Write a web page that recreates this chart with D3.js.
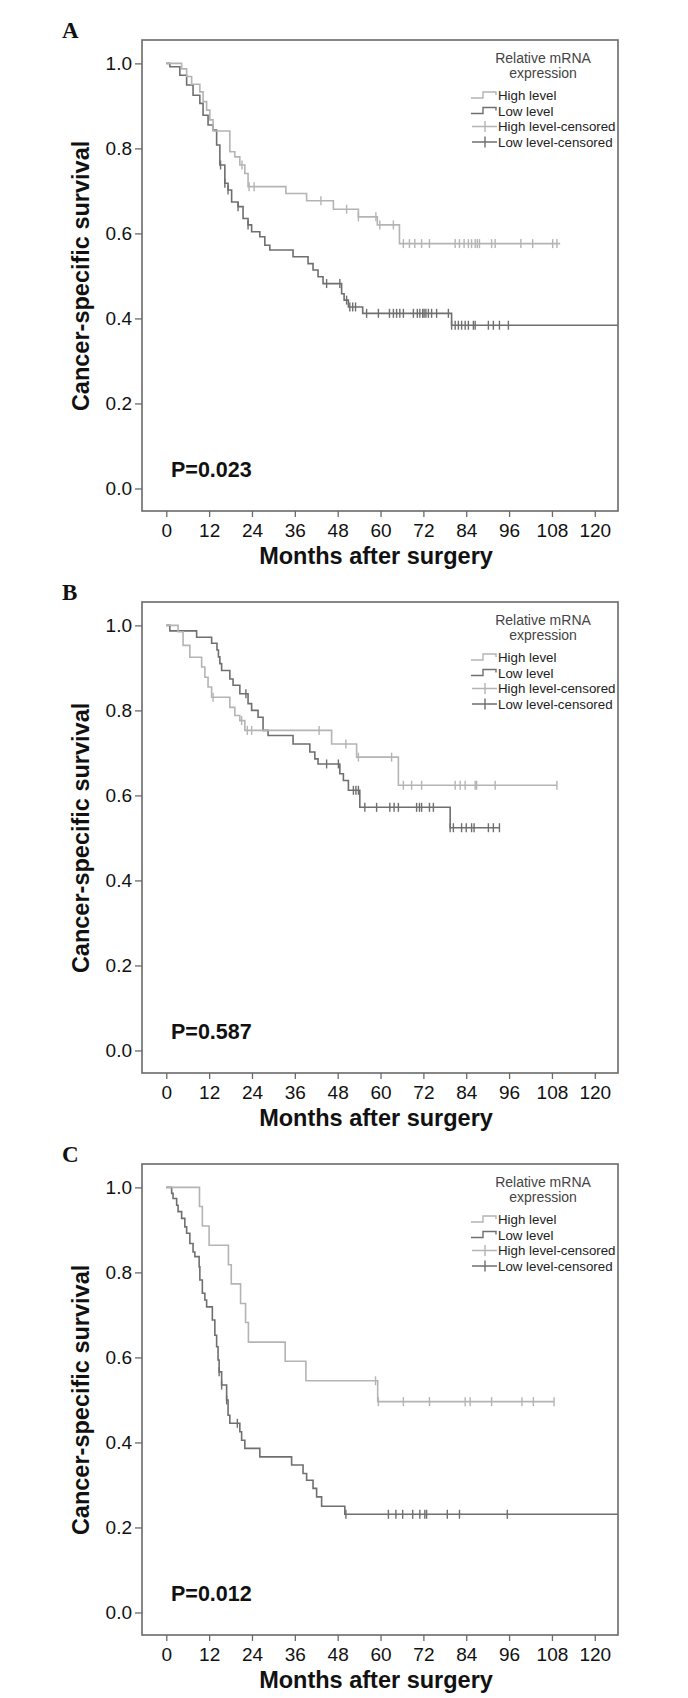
<!DOCTYPE html>
<html><head><meta charset="utf-8">
<script src="https://cdn.jsdelivr.net/npm/d3@7"></script>
<style>
body{margin:0;background:#fff}
svg{display:block}
text{font-family:"Liberation Sans",Arial,sans-serif}
</style>
</head><body>
<svg id="chart" width="688" height="1698"></svg>
<script>
// ---------- shared labels / ticks ----------
const monthTicks = [0, 12, 24, 36, 48, 60, 72, 84, 96, 108, 120];
const survivalTicks = [0.0, 0.2, 0.4, 0.6, 0.8, 1.0];
const panelLabels = ["A", "B", "C"];
const pValues = ["P=0.023", "P=0.587", "P=0.012"];
const legendTitle = ["Relative mRNA", "expression"];
const legendItems = ["High level", "Low level", "High level-censored", "Low level-censored"];
const xTitle = "Months after surgery";
const yTitle = "Cancer-specific survival";

// ---------- Panel A ----------
const highA_time = [4.3, 5.7, 7.1, 9.4, 10.3, 11.3, 12.2, 13.1, 17.8, 19.2, 20.6, 22.0, 22.9, 33.5, 39.3, 46.8, 53.8, 59.1, 65.3];
const highA_surv = [0.987, 0.969, 0.951, 0.933, 0.910, 0.890, 0.867, 0.841, 0.792, 0.780, 0.761, 0.741, 0.710, 0.694, 0.677, 0.657, 0.639, 0.620, 0.576];
const highA_censor = [21.2, 23.2, 24.6, 43.3, 50.5, 53.8, 58.7, 59.8, 63.6, 66.4, 68.1, 69.6, 71.5, 73.7, 80.9, 82.1, 83.4, 84.6, 85.5, 86.5, 87.1, 87.7, 91.1, 92.1, 99.3, 102.6, 108.2, 109.4];
const highA_end = 110.3;
const lowA_time = [1.0, 3.8, 5.7, 7.5, 9.4, 10.3, 11.7, 13.1, 14.1, 15.0, 16.4, 17.3, 18.3, 20.1, 21.5, 22.9, 23.9, 26.2, 27.6, 29.0, 35.5, 39.7, 41.1, 42.5, 43.9, 49.1, 49.8, 51.0, 55.0, 79.9];
const lowA_surv = [0.992, 0.972, 0.949, 0.925, 0.906, 0.878, 0.855, 0.843, 0.808, 0.761, 0.718, 0.702, 0.674, 0.663, 0.635, 0.620, 0.604, 0.592, 0.572, 0.561, 0.545, 0.529, 0.514, 0.498, 0.482, 0.458, 0.443, 0.427, 0.412, 0.384];
const lowA_censor = [15.2, 16.4, 17.3, 20.1, 22.9, 44.9, 48.6, 50.5, 51.4, 52.2, 53.0, 56.1, 59.4, 62.5, 63.6, 64.5, 65.4, 66.4, 69.2, 70.3, 71.0, 71.8, 72.2, 72.7, 73.4, 74.3, 75.7, 79.0, 79.9, 80.9, 81.8, 82.7, 83.7, 84.6, 86.0, 86.5, 90.2, 91.6, 93.3, 95.8];
const lowA_end = 130;

// ---------- Panel B ----------
const highB_time = [3.3, 4.7, 6.6, 9.9, 10.8, 11.7, 12.7, 17.8, 19.2, 20.6, 22.0, 46.3, 53.3, 65.0];
const highB_surv = [0.985, 0.953, 0.925, 0.902, 0.878, 0.855, 0.831, 0.807, 0.788, 0.776, 0.753, 0.721, 0.690, 0.624];
const highB_censor = [13.1, 21.1, 22.7, 23.9, 42.8, 50.3, 53.8, 63.1, 66.4, 68.7, 71.5, 80.9, 82.3, 83.7, 86.5, 86.9, 92.1, 109.4];
const highB_end = 109.4;
const lowB_time = [1.0, 8.5, 12.7, 14.2, 14.6, 15.0, 15.5, 17.8, 18.7, 20.6, 22.9, 23.9, 25.7, 27.1, 28.5, 35.5, 40.2, 41.6, 42.5, 48.6, 49.6, 51.0, 54.2, 79.5];
const lowB_surv = [0.987, 0.972, 0.958, 0.942, 0.926, 0.910, 0.894, 0.874, 0.859, 0.839, 0.816, 0.800, 0.784, 0.753, 0.741, 0.721, 0.702, 0.686, 0.674, 0.651, 0.635, 0.612, 0.572, 0.524];
const lowB_censor = [22.3, 44.9, 48.2, 52.4, 53.1, 53.8, 55.6, 58.9, 62.6, 63.8, 65.0, 70.1, 70.9, 71.5, 73.7, 74.8, 79.5, 80.4, 82.7, 84.0, 85.5, 86.2, 90.2, 91.6, 93.3];
const lowB_end = 93.3;

// ---------- Panel C ----------
const highC_time = [9.3, 10.1, 12.0, 17.4, 18.2, 20.8, 22.2, 23.0, 33.3, 39.1, 59.2];
const highC_surv = [0.955, 0.909, 0.864, 0.818, 0.773, 0.727, 0.682, 0.636, 0.591, 0.545, 0.496];
const highC_censor = [58.6, 59.4, 66.4, 73.7, 83.7, 85.1, 91.1, 99.6, 102.8, 108.6];
const highC_end = 108.6;
const lowC_time = [1.5, 1.9, 2.9, 3.3, 4.3, 5.2, 5.7, 6.6, 7.5, 8.0, 9.2, 9.4, 10.1, 10.8, 11.3, 12.9, 13.6, 14.1, 14.5, 14.8, 15.5, 16.9, 17.3, 17.8, 20.6, 21.1, 22.0, 26.2, 35.1, 38.3, 39.3, 41.1, 42.1, 43.5, 50.0];
const lowC_surv = [0.986, 0.974, 0.958, 0.943, 0.927, 0.907, 0.892, 0.868, 0.848, 0.837, 0.813, 0.782, 0.751, 0.735, 0.719, 0.688, 0.652, 0.625, 0.594, 0.566, 0.535, 0.500, 0.464, 0.445, 0.425, 0.405, 0.386, 0.366, 0.347, 0.327, 0.311, 0.292, 0.272, 0.250, 0.231];
const lowC_censor = [14.8, 15.5, 16.9, 19.9, 50.3, 62.2, 64.3, 66.2, 69.0, 71.0, 72.4, 72.9, 78.7, 82.1, 95.5];
const lowC_end = 130;

// ---------- build panel table ----------
const panels = [
  {label: panelLabels[0], p: pValues[0],
   high: {time: highA_time, surv: highA_surv, censor: highA_censor, end: highA_end},
   low:  {time: lowA_time,  surv: lowA_surv,  censor: lowA_censor,  end: lowA_end}},
  {label: panelLabels[1], p: pValues[1],
   high: {time: highB_time, surv: highB_surv, censor: highB_censor, end: highB_end},
   low:  {time: lowB_time,  surv: lowB_surv,  censor: lowB_censor,  end: lowB_end}},
  {label: panelLabels[2], p: pValues[2],
   high: {time: highC_time, surv: highC_surv, censor: highC_censor, end: highC_end},
   low:  {time: lowC_time,  surv: lowC_surv,  censor: lowC_censor,  end: lowC_end}}
];

// ---------- layout ----------
const panelH = 562;
const frame = {left: 142, right: 618, top: 40, bottom: 511};
const highColor = "#b4b4b4", lowColor = "#6f6f6f", frameColor = "#6a6a6a";

const x = d3.scaleLinear().domain([-6.8, 126.5]).range([frame.left, frame.right]);
const y = d3.scaleLinear().domain([-0.053, 1.055]).range([frame.bottom, frame.top]);
const line = d3.line().x(d => x(d[0])).y(d => y(d[1]));

function stepPoints(g) {
  const pts = [[0, 1]];
  let s = 1;
  g.time.forEach((t, i) => { pts.push([t, s]); s = g.surv[i]; pts.push([t, s]); });
  pts.push([g.end, s]);
  return pts;
}
function survAt(g, t) {
  let s = 1;
  g.time.forEach((tt, i) => { if (tt <= t) s = g.surv[i]; });
  return s;
}

const svg = d3.select("#chart");
const defs = svg.append("defs");
defs.append("clipPath").attr("id", "plotclip").append("rect")
  .attr("x", frame.left).attr("y", frame.top)
  .attr("width", frame.right - frame.left).attr("height", frame.bottom - frame.top);

panels.forEach((P, pi) => {
  const g = svg.append("g").attr("transform", `translate(0,${pi * panelH})`);

  // panel letter
  g.append("text").attr("x", 62).attr("y", 38)
    .style("font-family", '"Liberation Serif","Times New Roman",serif')
    .style("font-weight", "bold").style("font-size", "23px").attr("fill", "#111")
    .text(P.label);

  // axes
  const ax = g.append("g").attr("transform", `translate(0,${frame.bottom})`)
    .call(d3.axisBottom(x).tickValues(monthTicks).tickFormat(d3.format("d")).tickSizeOuter(0).tickSize(6).tickPadding(7));
  const ay = g.append("g").attr("transform", `translate(${frame.left},0)`)
    .call(d3.axisLeft(y).tickValues(survivalTicks).tickFormat(d3.format(".1f")).tickSizeOuter(0).tickSize(7).tickPadding(3));
  [ax, ay].forEach(a => {
    a.select(".domain").remove();
    a.selectAll(".tick line").attr("stroke", frameColor).attr("stroke-width", 1.3);
    a.selectAll(".tick text").attr("fill", "#111")
      .style("font-family", '"Liberation Sans",Arial,sans-serif').style("font-size", "19px");
  });

  // frame
  g.append("rect").attr("x", frame.left).attr("y", frame.top)
    .attr("width", frame.right - frame.left).attr("height", frame.bottom - frame.top)
    .attr("fill", "none").attr("stroke", frameColor).attr("stroke-width", 1.6);

  // axis titles
  g.append("text").attr("x", 376).attr("y", 564).attr("text-anchor", "middle")
    .style("font-weight", "bold").style("font-size", "23.5px").attr("fill", "#111").text(xTitle);
  g.append("text").attr("transform", `translate(89,${(y(0) + y(1)) / 2}) rotate(-90)`)
    .attr("text-anchor", "middle")
    .style("font-weight", "bold").style("font-size", "23.5px").attr("fill", "#111").text(yTitle);

  // curves
  const plot = g.append("g").attr("clip-path", "url(#plotclip)");
  [["low", lowColor], ["high", highColor]].forEach(([key, col]) => {
    const grp = P[key];
    plot.append("path").attr("d", line(stepPoints(grp)))
      .attr("fill", "none").attr("stroke", col).attr("stroke-width", 1.6);
    plot.selectAll(null).data(grp.censor).enter().append("line")
      .attr("x1", d => x(d)).attr("x2", d => x(d))
      .attr("y1", d => y(survAt(grp, d)) - 4.5).attr("y2", d => y(survAt(grp, d)) + 4.5)
      .attr("stroke", col).attr("stroke-width", 1.4);
  });

  // p value
  g.append("text").attr("x", 171).attr("y", 477)
    .style("font-weight", "bold").style("font-size", "21.5px").attr("fill", "#111").text(P.p);

  // legend
  const lg = g.append("g");
  legendTitle.forEach((t, i) => {
    lg.append("text").attr("x", 543).attr("y", 63 + i * 15).attr("text-anchor", "middle")
      .style("font-size", "14px").attr("fill", "#444").text(t);
  });
  const baselines = [100, 115.5, 131, 146.5];
  const itemColors = [highColor, lowColor, highColor, lowColor];
  legendItems.forEach((t, i) => {
    const b = baselines[i];
    lg.append("text").attr("x", 498).attr("y", b)
      .style("font-size", "13.3px").attr("fill", "#222").text(t);
    if (i < 2) {
      lg.append("path").attr("d", `M471,${b - 2} H483 V${b - 8} H496 V${b - 5}`)
        .attr("fill", "none").attr("stroke", itemColors[i]).attr("stroke-width", 1.4);
    } else {
      lg.append("path").attr("d", `M472,${b - 4.5} H497 M485,${b - 10} V${b + 1}`)
        .attr("fill", "none").attr("stroke", itemColors[i]).attr("stroke-width", 1.4);
    }
  });
});
</script>
</body></html>
